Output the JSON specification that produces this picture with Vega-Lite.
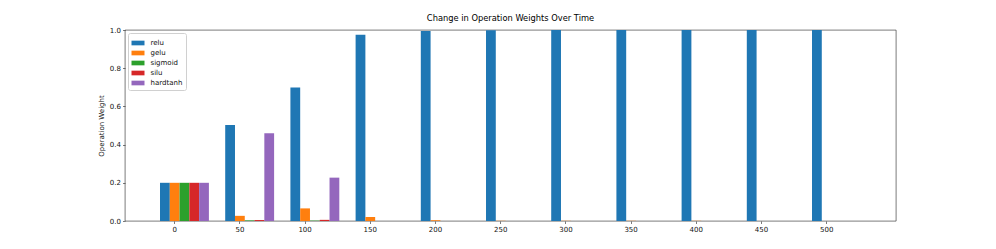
{
  "$schema": "https://vega.github.io/schema/vega-lite/v6.json",
  "width": 771,
  "height": 191,
  "autosize": {"type": "none"},
  "padding": {"left": 125, "top": 30, "right": 100, "bottom": 28},
  "background": "white",
  "title": {"text": "Change in Operation Weights Over Time", "font": "DejaVu Sans", "fontSize": 8.3, "fontWeight": "normal", "color": "#000000", "offset": 4},
  "config": {
    "view": {"stroke": "#222222", "strokeWidth": 0.6},
    "font": "DejaVu Sans"
  },
  "data": {"values": [
    {"step": 0, "op": "relu", "weight": 0.2},
    {"step": 0, "op": "gelu", "weight": 0.2},
    {"step": 0, "op": "sigmoid", "weight": 0.2},
    {"step": 0, "op": "silu", "weight": 0.2},
    {"step": 0, "op": "hardtanh", "weight": 0.2},
    {"step": 50, "op": "relu", "weight": 0.503},
    {"step": 50, "op": "gelu", "weight": 0.027},
    {"step": 50, "op": "sigmoid", "weight": 0.003},
    {"step": 50, "op": "silu", "weight": 0.005},
    {"step": 50, "op": "hardtanh", "weight": 0.459},
    {"step": 100, "op": "relu", "weight": 0.699},
    {"step": 100, "op": "gelu", "weight": 0.066},
    {"step": 100, "op": "sigmoid", "weight": 0.002},
    {"step": 100, "op": "silu", "weight": 0.006},
    {"step": 100, "op": "hardtanh", "weight": 0.227},
    {"step": 150, "op": "relu", "weight": 0.975},
    {"step": 150, "op": "gelu", "weight": 0.021},
    {"step": 150, "op": "sigmoid", "weight": 0.0},
    {"step": 150, "op": "silu", "weight": 0.0},
    {"step": 150, "op": "hardtanh", "weight": 0.0},
    {"step": 200, "op": "relu", "weight": 0.995},
    {"step": 200, "op": "gelu", "weight": 0.004},
    {"step": 200, "op": "sigmoid", "weight": 0.0},
    {"step": 200, "op": "silu", "weight": 0.0},
    {"step": 200, "op": "hardtanh", "weight": 0.0},
    {"step": 250, "op": "relu", "weight": 0.999},
    {"step": 250, "op": "gelu", "weight": 0.001},
    {"step": 250, "op": "sigmoid", "weight": 0.0},
    {"step": 250, "op": "silu", "weight": 0.0},
    {"step": 250, "op": "hardtanh", "weight": 0.0},
    {"step": 300, "op": "relu", "weight": 1.0},
    {"step": 300, "op": "gelu", "weight": 0.001},
    {"step": 300, "op": "sigmoid", "weight": 0.0},
    {"step": 300, "op": "silu", "weight": 0.0},
    {"step": 300, "op": "hardtanh", "weight": 0.0},
    {"step": 350, "op": "relu", "weight": 1.0},
    {"step": 350, "op": "gelu", "weight": 0.001},
    {"step": 350, "op": "sigmoid", "weight": 0.0},
    {"step": 350, "op": "silu", "weight": 0.0},
    {"step": 350, "op": "hardtanh", "weight": 0.0},
    {"step": 400, "op": "relu", "weight": 1.0},
    {"step": 400, "op": "gelu", "weight": 0.001},
    {"step": 400, "op": "sigmoid", "weight": 0.0},
    {"step": 400, "op": "silu", "weight": 0.0},
    {"step": 400, "op": "hardtanh", "weight": 0.0},
    {"step": 450, "op": "relu", "weight": 1.0},
    {"step": 450, "op": "gelu", "weight": 0.0},
    {"step": 450, "op": "sigmoid", "weight": 0.0},
    {"step": 450, "op": "silu", "weight": 0.0},
    {"step": 450, "op": "hardtanh", "weight": 0.0},
    {"step": 500, "op": "relu", "weight": 1.0},
    {"step": 500, "op": "gelu", "weight": 0.0},
    {"step": 500, "op": "sigmoid", "weight": 0.0},
    {"step": 500, "op": "silu", "weight": 0.0},
    {"step": 500, "op": "hardtanh", "weight": 0.0}
  ]},
  "mark": {"type": "bar", "stroke": null},
  "encoding": {
    "x": {
      "field": "step", "type": "ordinal",
      "scale": {"paddingInner": 0, "paddingOuter": 0.4126, "align": 0.318},
      "axis": {"title": null, "labelAngle": 0, "labelFontSize": 7, "labelColor": "#111111", "labelFont": "DejaVu Sans", "domain": false, "tickColor": "#222222", "tickSize": 2.5, "tickWidth": 0.6, "labelPadding": 2, "grid": false}
    },
    "xOffset": {
      "field": "op", "type": "nominal",
      "scale": {"domain": ["relu", "gelu", "sigmoid", "silu", "hardtanh"], "range": [17.9, 66.8], "paddingInner": 0, "paddingOuter": 0}
    },
    "y": {
      "field": "weight", "type": "quantitative",
      "scale": {"domain": [0, 1], "nice": false},
      "axis": {"title": "Operation Weight", "titleFontSize": 7, "titleFont": "DejaVu Sans", "titleFontWeight": "normal", "titleColor": "#111111", "titlePadding": 5, "values": [0, 0.2, 0.4, 0.6, 0.8, 1.0], "format": ".1f", "labelFontSize": 7, "labelColor": "#111111", "labelFont": "DejaVu Sans", "domain": false, "tickColor": "#222222", "tickSize": 2.5, "tickWidth": 0.6, "labelPadding": 2, "grid": false}
    },
    "color": {
      "field": "op", "type": "nominal",
      "scale": {"domain": ["relu", "gelu", "sigmoid", "silu", "hardtanh"], "range": ["#1f77b4", "#ff7f0e", "#2ca02c", "#d62728", "#9467bd"]},
      "legend": {"title": null, "orient": "top-left", "offset": 3, "padding": 3.5, "fillColor": "white", "strokeColor": "#d0d0d0", "cornerRadius": 2, "labelFontSize": 7, "labelFont": "DejaVu Sans", "labelColor": "#111111", "symbolType": "M-1,-0.36H1V0.36H-1Z", "symbolSize": 169, "symbolStrokeWidth": 0, "rowPadding": -0.3, "labelOffset": 6}
    }
  }
}
